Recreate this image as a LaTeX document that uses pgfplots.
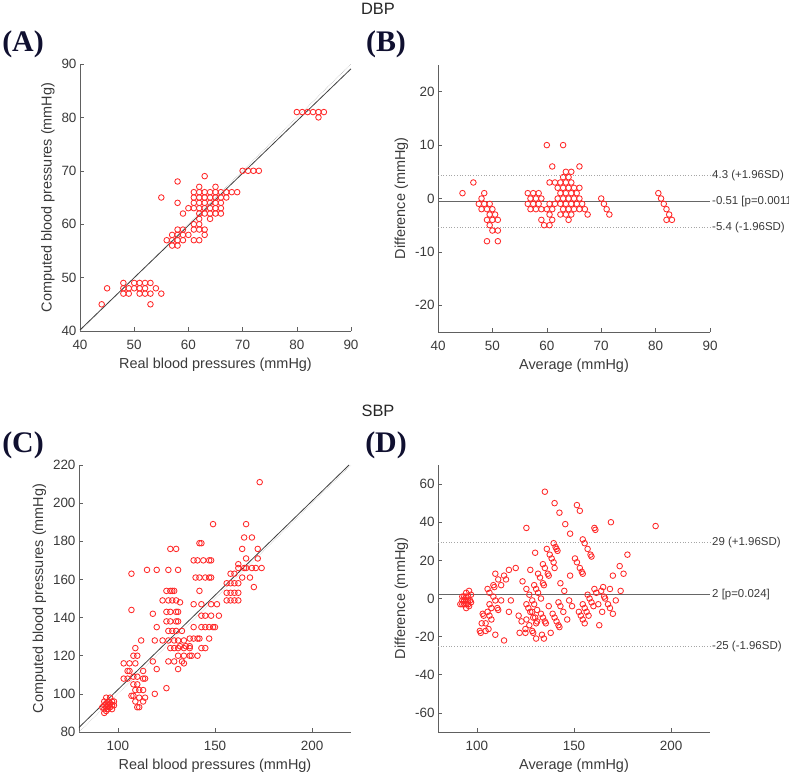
\documentclass[border=0pt]{standalone}
\usepackage{pgfplots}
\pgfplotsset{compat=1.18}
\usepackage{fontspec}
\setmainfont{Liberation Sans}
\newfontfamily\serifbold{Liberation Serif}
\definecolor{axgray}{HTML}{606060}
\definecolor{labgray}{HTML}{3A3A3A}
\definecolor{mred}{HTML}{FF2828}
\definecolor{panelcol}{HTML}{101030}
\pgfplotsset{
  mstyle/.style={
    scale only axis, width=272bp, height=267bp,
    axis lines*=left,
    axis line style={draw=axgray, line width=0.9pt},
    tick align=inside, major tick length=4bp,
    tick style={draw=axgray, line width=0.6pt},
    tick label style={font=\fontsize{13.5}{15}\selectfont, text=labgray},
    xticklabel style={yshift=-6bp},
    label style={font=\fontsize{14.5}{16}\selectfont, text=labgray},
    xlabel style={at={(axis description cs:0.5,0)}, anchor=center, yshift=-34bp},
    /pgf/number format/assume math mode=true,
    clip=false,
  },
  pts/.style={only marks, mark=o, mark size=2.8bp, color=mred, mark options={line width=0.85pt}},
}
\tikzset{sdlab/.style={anchor=west, inner sep=0pt, xshift=2bp, font=\fontsize{11.5}{13}\selectfont, text=labgray}}
\begin{document}
\begin{tikzpicture}
\useasboundingbox (0,0) rectangle (789bp,-776bp);

\node[font=\fontsize{16.5}{18}\selectfont, text=black!85] at (378bp,-9bp) {DBP};
\node[font=\fontsize{16.5}{18}\selectfont, text=black!85] at (378bp,-411bp) {SBP};
\node[font=\serifbold\bfseries\fontsize{30}{32}\selectfont, text=panelcol] at (23bp,-44bp) {(A)};
\node[font=\serifbold\bfseries\fontsize{30}{32}\selectfont, text=panelcol] at (386bp,-44bp) {(B)};
\node[font=\serifbold\bfseries\fontsize{30}{32}\selectfont, text=panelcol] at (23bp,-445bp) {(C)};
\node[font=\serifbold\bfseries\fontsize{30}{32}\selectfont, text=panelcol] at (386bp,-445bp) {(D)};

% ---------------- (A)
\begin{axis}[mstyle, at={(80bp,-331bp)}, anchor=south west, width=271bp,
  xmin=40, xmax=90, ymin=40, ymax=90,
  xtick={40,50,...,90}, ytick={40,50,...,90},
  xlabel={Real blood pressures (mmHg)}, ylabel={Computed blood pressures (mmHg)}]
\addplot[densely dotted, gray!55, line width=0.6pt] coordinates {(40,40) (90,90)};
\addplot[draw=black!75, line width=0.8pt] coordinates {(40,40.2) (90,89.1)};
\addplot[pts] coordinates {
(44,45) (45,48)
(48,49) (48,48) (48,47) (49,48) (49,47) (50,49) (50,48)
(51,49) (51,48) (51,47) (52,49) (52,48) (52,47)
(53,49) (53,47) (53,45) (54,48) (55,47) (55,65) (56,57)
(57,58) (57,57) (57,56)
(58,68) (58,64) (58,59) (58,58) (58,57) (58,56)
(59,62) (59,59) (59,58) (59,57) (60,63) (60,58)
(61,66) (61,65) (61,64) (61,63) (61,60) (61,59) (61,57)
(62,67) (62,66) (62,65) (62,64) (62,63) (62,62) (62,61) (62,60) (62,59) (62,57)
(63,69) (63,66) (63,65) (63,64) (63,63) (63,62) (63,59) (63,58)
(64,66) (64,65) (64,64) (64,63) (64,62) (64,61)
(65,67) (65,66) (65,65) (65,64) (65,63) (65,62)
(66,66) (66,65) (66,64) (66,63) (66,62)
(67,66) (67,65) (68,66) (69,66)
(70,70) (71,70) (72,70) (73,70)
(80,81) (81,81) (82,81) (83,81) (84,81) (85,81) (84,80)
};
\end{axis}

% ---------------- (B)
\begin{axis}[mstyle, at={(438bp,-332bp)}, anchor=south west,
  xmin=40, xmax=90, ymin=-25, ymax=25,
  xtick={40,50,...,90}, ytick={-20,-10,...,20},
  xlabel={Average (mmHg)}, ylabel={Difference (mmHg)}]
\addplot[dotted, gray!70, line width=0.7pt] coordinates {(40,4.38) (90,4.38)};
\addplot[dotted, gray!70, line width=0.7pt] coordinates {(40,-5.4) (90,-5.4)};
\addplot[draw=black!60, line width=1.1pt] coordinates {(40,-0.51) (90,-0.51)};
\node[sdlab] at (axis cs:90,4.38) {4.3 (+1.96SD)};
\node[sdlab] at (axis cs:90,-0.51) {-0.51 [p=0.0011};
\node[sdlab] at (axis cs:90,-5.4) {-5.4 (-1.96SD)};
\addplot[pts] coordinates {
(44.5,1) (46.5,3) (48.5,1) (48,0) (47.5,-1) (48.5,-1) (48,-2) (49.5,-1) (49,-2)
(50,-2) (49.5,-3) (49,-4) (50.5,-3) (50,-4) (49.5,-5) (51,-4) (50,-6) (49,-8)
(51,-6) (51,-8) (60,10) (56.5,1) (57.5,1) (57,0) (56.5,-1) (63,10) (61,6)
(58.5,1) (58,0) (57.5,-1) (57,-2) (60.5,3) (59,0) (58.5,-1) (58,-2) (61.5,3) (59,-2)
(63.5,5) (63,4) (62.5,3) (62,2) (60.5,-1) (60,-2) (59,-4)
(64.5,5) (64,4) (63.5,3) (63,2) (62.5,1) (62,0) (61.5,-1) (61,-2) (60.5,-3) (59.5,-5)
(66,6) (64.5,3) (64,2) (63.5,1) (63,0) (62.5,-1) (61,-4) (60.5,-5)
(65,2) (64.5,1) (64,0) (63.5,-1) (63,-2) (62.5,-3)
(66,2) (65.5,1) (65,0) (64.5,-1) (64,-2) (63.5,-3)
(66,0) (65.5,-1) (65,-2) (64.5,-3) (64,-4)
(66.5,-1) (66,-2) (67,-2) (67.5,-3)
(70,0) (70.5,-1) (71,-2) (71.5,-3)
(80.5,1) (81,0) (81.5,-1) (82,-2) (82.5,-3) (83,-4) (82,-4)
};
\end{axis}

% ---------------- (C)
\begin{axis}[mstyle, at={(79bp,-732bp)}, anchor=south west,
  xmin=80, xmax=220, ymin=80, ymax=220,
  xtick={100,150,200}, ytick={80,100,...,220},
  xlabel={Real blood pressures (mmHg)}, ylabel={Computed blood pressures (mmHg)}]
\addplot[densely dotted, gray!45, line width=0.6pt] coordinates {(80,80) (220,220)};
\addplot[draw=black!75, line width=0.8pt] coordinates {(80,82.4) (219,220)};
\addplot[pts] coordinates {
(92,93) (93,90) (93,92) (93,94) (93,96) (94,91) (94,93) (94,95) (94,98) (95,92)
(95,94) (95,96) (96,93) (96,95) (96,98) (97,92) (97,94) (97,96) (98,94) (98,96)
(103,116) (106,116) (109,116) (103,108) (105,108) (105,112) (106,112)
(107,163) (107,144) (108,120) (110,120) (109,124) (108,105) (110,105) (108,109) (110,109)
(107,99) (108,99) (109,102) (111,102) (113,102) (111,98) (114,98) (109,96) (113,96)
(110,93) (111,93) (113,112) (113,108) (114,108) (112,128)
(115,165) (120,165) (118,142) (120,135) (119,128) (118,117) (120,113) (119,100)
(123,128) (123,149) (125,103) (126,165) (131,165) (127,176) (130,176)
(125,154) (127,154) (128,154) (129,154)
(126,149) (128,149) (130,149) (132,148)
(125,143) (127,143) (130,143) (131,143)
(125,138) (127,138) (130,138) (131,138)
(126,133) (128,133) (130,133) (133,133)
(126,128) (129,128) (131,128) (134,128)
(127,124) (129,124) (131,124) (134,124) (137,124)
(126,117) (129,117) (133,117) (134,116) (131,113)
(131,120) (134,120) (137,120) (138,120) (141,120)
(132,125) (135,125) (137,125)
(137,129) (139,129) (141,129) (142,129)
(139,147) (143,147) (148,147) (151,147)
(139,135) (143,135) (145,135) (147,135) (149,135) (150,135)
(143,141) (145,141) (148,141) (152,141)
(143,124) (145,124) (147,129)
(142,179) (143,179)
(139,170) (141,170) (144,170) (147,170) (148,170)
(140,161) (142,161) (145,161) (147,161) (148,161)
(142,154) (149,189)
(156,153) (158,153) (160,153) (162,153)
(156,149) (158,149) (160,149) (162,149)
(156,158) (158,158) (160,158) (162,158)
(158,163) (160,163) (164,161) (168,161) (162,168)
(164,176) (172,176) (165,182) (169,182) (166,189)
(166,171) (172,171)
(162,166) (165,166) (166,166) (169,166) (171,166) (174,166)
(170,156) (173,211)
};
\end{axis}

% ---------------- (D)
\begin{axis}[mstyle, at={(438bp,-732bp)}, anchor=south west,
  xmin=80, xmax=220, ymin=-70, ymax=70,
  xtick={100,150,200}, ytick={-60,-40,...,60},
  xlabel={Average (mmHg)}, ylabel={Difference (mmHg)}]
\addplot[dotted, gray!70, line width=0.7pt] coordinates {(80,29.5) (220,29.5)};
\addplot[dotted, gray!70, line width=0.7pt] coordinates {(80,-25.3) (220,-25.3)};
\addplot[draw=black!60, line width=1.1pt] coordinates {(80,2.1) (220,2.1)};
\node[sdlab] at (axis cs:220,29.5) {29 (+1.96SD)};
\node[sdlab] at (axis cs:220,2.1) {2 [p=0.024]};
\node[sdlab] at (axis cs:220,-25.3) {-25 (-1.96SD)};
\addplot[pts] coordinates {
(92.5,1) (91.5,-3) (92.5,-1) (93.5,1) (94.5,3) (92.5,-3) (93.5,-1) (94.5,1) (96,4) (93.5,-3)
(94.5,-1) (95.5,1) (94.5,-3) (95.5,-1) (97,2) (94.5,-5) (95.5,-3) (96.5,-1) (96,-4) (97,-2)
(109.5,13) (111,10) (112.5,7) (105.5,5) (106.5,3) (108.5,7) (109,6)
(135,56) (125.5,37) (114,12) (115,10) (116.5,15) (106.5,-3) (107.5,-5) (108.5,1) (109.5,-1)
(103,-8) (103.5,-9) (105.5,-7) (106.5,-9) (107.5,-11) (104.5,-13) (106,-16) (102.5,-13) (104.5,-17)
(101.5,-17) (102,-18) (112.5,-1) (110.5,-5) (111,-6) (120,16)
(140,50) (142.5,45) (130,24) (127.5,15) (123.5,9) (117.5,-1) (116.5,-7) (109.5,-19)
(125.5,5) (136,26) (114,-22) (145.5,39) (148,34) (151.5,49) (153,46)
(139.5,29) (140.5,27) (141,26) (141.5,25)
(137.5,23) (138.5,21) (139.5,19) (140,16)
(134,18) (135,16) (136.5,13) (137,12)
(131.5,13) (132.5,11) (134,8) (134.5,7)
(129.5,7) (130.5,5) (131.5,3) (133,0)
(127,2) (128.5,-1) (129.5,-3) (131,-6)
(125.5,-3) (126.5,-5) (127.5,-7) (129,-10) (130.5,-13)
(121.5,-9) (123,-12) (125,-16) (125,-18) (122,-18)
(125.5,-11) (127,-14) (128.5,-17) (129,-18) (130.5,-21)
(128.5,-7) (130,-10) (131,-12)
(133,-8) (134,-10) (135,-12) (135.5,-13)
(143,8) (145,4) (147.5,-1) (149,-4)
(137,-4) (139,-8) (140,-10) (141,-12) (142,-14) (142.5,-15)
(142,-2) (143,-4) (144.5,-7) (146.5,-11)
(133.5,-19) (134.5,-21) (138,-18)
(160.5,37) (161,36)
(154.5,31) (155.5,29) (157,26) (158.5,23) (159,22)
(150.5,21) (151.5,19) (153,16) (154,14) (154.5,13)
(148,12) (169,40)
(154.5,-3) (155.5,-5) (156.5,-7) (157.5,-9)
(152.5,-7) (153.5,-9) (154.5,-11) (155.5,-13)
(157,2) (158,0) (159,-2) (160,-4)
(160.5,5) (161.5,3) (162.5,-3) (164.5,-7) (165,6)
(170,12) (174,4) (173.5,17) (175.5,13) (177.5,23)
(168.5,5) (171.5,-1)
(164,4) (165.5,1) (166,0) (167.5,-3) (168.5,-5) (170,-8)
(163,-14) (192,38)
};
\end{axis}
\end{tikzpicture}
\end{document}
